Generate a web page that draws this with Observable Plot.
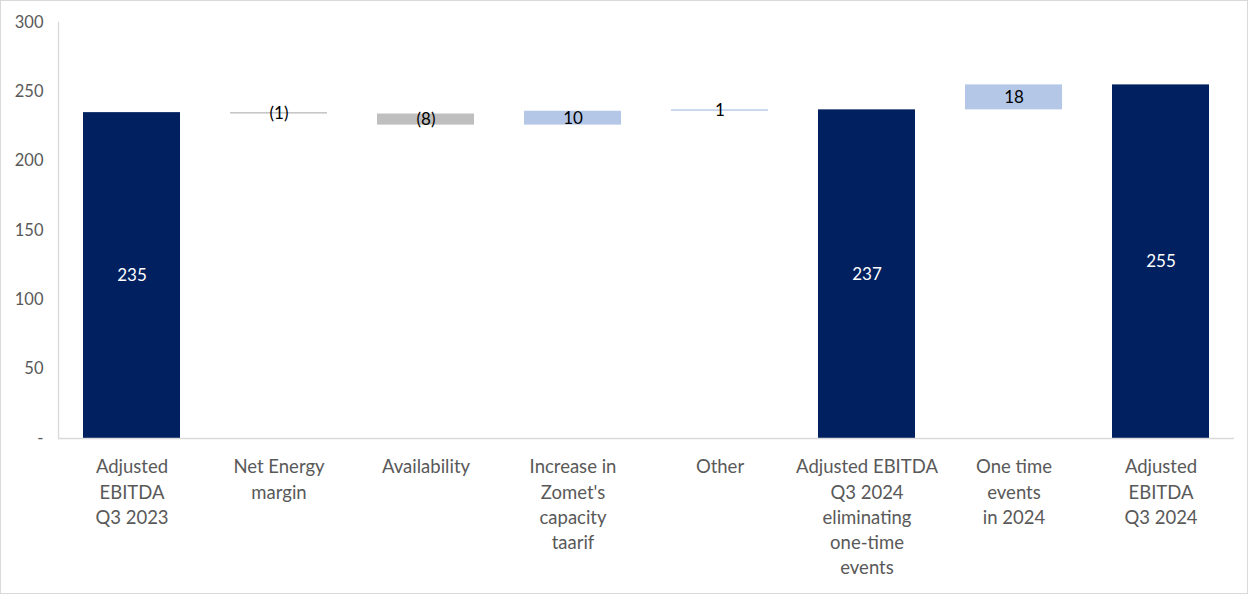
<!DOCTYPE html>
<html>
<head>
<meta charset="utf-8">
<script src="https://cdn.jsdelivr.net/npm/d3@7"></script>
<script src="https://cdn.jsdelivr.net/npm/@observablehq/plot@0.6"></script>
<style>
  html, body { margin: 0; padding: 0; background: #fff; }
  #wrap { position: relative; width: 1248px; height: 594px; }
  #frame { position: absolute; left: 0; top: 0; width: 1248px; height: 594px; box-sizing: border-box; border: 1px solid #d9d9d9; pointer-events: none; }
</style>
</head>
<body>
<div id="wrap"><div id="frame"></div></div>
<script>
const categories = [
  "Adjusted\nEBITDA\nQ3 2023",
  "Net Energy\nmargin",
  "Availability",
  "Increase in\nZomet's\ncapacity\ntaarif",
  "Other",
  "Adjusted EBITDA\nQ3 2024\neliminating\none-time\nevents",
  "One time\nevents\nin 2024",
  "Adjusted\nEBITDA\nQ3 2024"
];
const values = [235, -1, -8, 10, 1, 237, 18, 255];
const kinds = ["total", "delta", "delta", "delta", "delta", "total", "delta", "total"];
const yTicks = [0, 50, 100, 150, 200, 250, 300];

const colors = { total: "#002060", up: "#b4c7e7", down: "#bfbfbf" };

let run = 0;
const rows = categories.map((c, i) => {
  const v = values[i];
  let y1, y2, kind;
  if (kinds[i] === "total") { y1 = 0; y2 = v; run = v; kind = "total"; }
  else { y1 = run; y2 = run + v; run = y2; kind = v >= 0 ? "up" : "down"; }
  const label = kinds[i] === "total" ? String(v) : (v < 0 ? `(${-v})` : String(v));
  return { cat: c, y1, y2, ym: (y1 + y2) / 2, kind, label };
});

const font = "Lato, 'Open Sans', sans-serif";
const chart = Plot.plot({
  width: 1248,
  height: 594,
  marginLeft: 58,
  marginRight: 14,
  marginTop: 22,
  marginBottom: 156,
  style: { fontFamily: font, fontSize: "17px", color: "#595959", background: "transparent" },
  x: { domain: categories, paddingInner: 0.34, paddingOuter: 0.17, label: null },
  y: { domain: [0, 300], label: null },
  marks: [
    Plot.barY(rows, { x: "cat", y1: "y1", y2: "y2", fill: d => colors[d.kind] }),
    Plot.ruleY([0], { stroke: "#d9d9d9", strokeWidth: 1.3 }),
    Plot.frame({ anchor: "left", stroke: "#d9d9d9", strokeWidth: 1.3 }),
    Plot.text(rows, {
      x: "cat", y: "ym", text: "label",
      fill: d => d.kind === "total" ? "#ffffff" : "#000000",
      fontSize: 17, fontFamily: font
    }),
    Plot.axisY({ ticks: yTicks, tickSize: 0, tickPadding: 15, tickFormat: d => d === 0 ? "-" : String(d), fill: "#595959", fontSize: 16.5 }),
    Plot.axisX({ tickSize: 0, tickPadding: 17, lineHeight: 1.36, fill: "#595959", fontSize: 18.5, textAnchor: "middle" })
  ]
});
document.getElementById("wrap").prepend(chart);
</script>
</body>
</html>
